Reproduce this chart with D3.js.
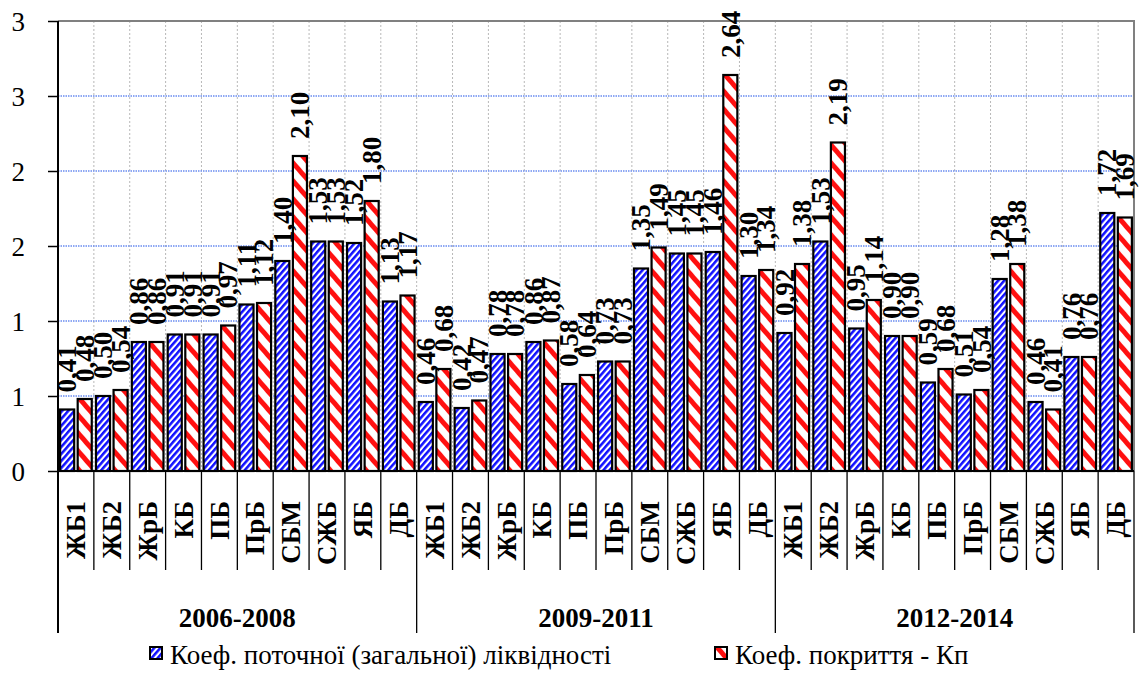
<!DOCTYPE html>
<html>
<head>
<meta charset="utf-8">
<script src="https://cdn.jsdelivr.net/npm/d3@7/dist/d3.min.js"></script>
<style>
  html, body { margin: 0; padding: 0; background: #ffffff; }
  svg { display: block; }
</style>
</head>
<body>
<svg id="chart" width="1148" height="673"></svg>
<script>
// Period groups and banks shown in each group
const groups = ["2006-2008", "2009-2011", "2012-2014"];
const banks = ["ЖБ1", "ЖБ2", "ЖрБ", "КБ", "ПБ", "ПрБ", "СБМ", "СЖБ", "ЯБ", "ДБ"];

// Current (general) liquidity ratio, by group then bank
const currentRatio = [
  0.41, 0.50, 0.86, 0.91, 0.91, 1.11, 1.40, 1.53, 1.52, 1.13,
  0.46, 0.42, 0.78, 0.86, 0.58, 0.73, 1.35, 1.45, 1.46, 1.30,
  0.92, 1.53, 0.95, 0.90, 0.59, 0.51, 1.28, 0.46, 0.76, 1.72
];
// Coverage ratio Kp, by group then bank
const coverageRatio = [
  0.48, 0.54, 0.86, 0.91, 0.97, 1.12, 2.10, 1.53, 1.80, 1.17,
  0.68, 0.47, 0.78, 0.87, 0.64, 0.73, 1.49, 1.45, 2.64, 1.34,
  1.38, 2.19, 1.14, 0.90, 0.68, 0.54, 1.38, 0.41, 0.76, 1.69
];

const seriesNames = ["Коеф. поточної (загальної) ліквідності", "Коеф. покриття - Кп"];
const yTicks = [0, 0.5, 1, 1.5, 2, 2.5, 3];

const FONT = "'Liberation Serif', Tinos, 'Times New Roman', 'DejaVu Serif', serif";

// Flat category list: one entry per (group, bank)
const categories = [];
groups.forEach((g, gi) => banks.forEach((b, bi) => {
  const i = gi * banks.length + bi;
  categories.push({ id: i, group: g, bank: b, values: [currentRatio[i], coverageRatio[i]] });
}));

const svg = d3.select("#chart").attr("font-family", FONT);
const plot = { left: 58, right: 1134, top: 21, bottom: 471 };

const x = d3.scaleBand()
  .domain(categories.map(d => d.id))
  .range([plot.left, plot.right])
  .padding(0);
const xSub = d3.scaleBand()
  .domain([0, 1])
  .range([0, x.bandwidth()])
  .paddingInner(0.2)
  .paddingOuter(0.12);
const y = d3.scaleLinear().domain([0, 3]).range([plot.bottom, plot.top]);

const fmt = v => d3.format(".2f")(v).replace(".", ",");

// Hatch fills: blue rising stripes, red falling stripes
const defs = svg.append("defs");
function stripes(id, color, period, angle, share) {
  const p = defs.append("pattern")
    .attr("id", id)
    .attr("patternUnits", "userSpaceOnUse")
    .attr("width", period)
    .attr("height", period)
    .attr("patternTransform", `rotate(${angle})`);
  p.append("rect").attr("width", period).attr("height", period).attr("fill", "#ffffff");
  p.append("rect").attr("width", period * share).attr("height", period).attr("fill", color);
}
stripes("hatchBlue", "#1010ff", 4.6, 41, 0.55);
stripes("hatchRed", "#ff1010", 11.8, -41, 0.42);
const fills = ["url(#hatchBlue)", "url(#hatchRed)"];

// Vertical gridlines at category boundaries
const bounds = d3.range(categories.length + 1).map(i => plot.left + i * x.step());
svg.append("g").selectAll("line")
  .data(bounds.slice(1, -1))
  .join("line")
  .attr("x1", d => d).attr("x2", d => d)
  .attr("y1", plot.top).attr("y2", plot.bottom)
  .attr("stroke", "#b8b8b8")
  .attr("stroke-width", 1)
  .attr("stroke-dasharray", "2 2");

// Horizontal gridlines
svg.append("g").selectAll("line")
  .data(yTicks.filter(t => t > 0 && t < 3))
  .join("line")
  .attr("x1", plot.left).attr("x2", plot.right)
  .attr("y1", d => y(d)).attr("y2", d => y(d))
  .attr("stroke", "#6a8cf0")
  .attr("stroke-width", 1.3)
  .attr("stroke-dasharray", "1.5 1");

// Plot frame (top and right)
svg.append("path")
  .attr("d", `M${plot.left},${plot.top}H${plot.right}V${plot.bottom}`)
  .attr("fill", "none")
  .attr("stroke", "#808080")
  .attr("stroke-width", 2);

// Bars
const catG = svg.append("g").selectAll("g")
  .data(categories)
  .join("g")
  .attr("transform", d => `translate(${x(d.id)},0)`);

catG.selectAll("rect")
  .data(d => d.values.map((v, s) => ({ v, s })))
  .join("rect")
  .attr("x", d => xSub(d.s))
  .attr("width", xSub.bandwidth())
  .attr("y", d => y(d.v))
  .attr("height", d => y(0) - y(d.v))
  .attr("fill", d => fills[d.s])
  .attr("stroke", "#000")
  .attr("stroke-width", 2.2);

// Value labels (blue series first, red on top)
[0, 1].forEach(s => {
  svg.append("g").selectAll("text")
    .data(categories)
    .join("text")
    .attr("transform", d => `translate(${x(d.id) + xSub(s) + xSub.bandwidth() / 2},${y(d.values[s]) - 17}) rotate(-90)`)
    .attr("dy", "0.34em")
    .attr("text-anchor", "start")
    .attr("font-size", 27)
    .attr("font-weight", "bold")
    .text(d => fmt(d.values[s]));
});

// Y axis
const yAxis = svg.append("g")
  .attr("transform", `translate(${plot.left},0)`)
  .call(d3.axisLeft(y).tickValues(yTicks).tickSize(10).tickSizeOuter(0).tickPadding(0)
    .tickFormat(d => String(Math.round(d))));
yAxis.attr("font-family", FONT).attr("font-size", 27);
yAxis.select(".domain").remove();
yAxis.selectAll(".tick line").attr("stroke", "#000").attr("stroke-width", 1.5);
yAxis.selectAll(".tick text")
  .attr("x", -33)
  .attr("dy", "0.34em")
  .attr("fill", "#000");

// Axis lines
svg.append("line")
  .attr("x1", plot.left).attr("x2", plot.left)
  .attr("y1", plot.top).attr("y2", 633)
  .attr("stroke", "#000").attr("stroke-width", 2);
svg.append("line")
  .attr("x1", plot.left).attr("x2", plot.right)
  .attr("y1", plot.bottom).attr("y2", plot.bottom)
  .attr("stroke", "#000").attr("stroke-width", 2);

// Category separators below the axis
svg.append("g").selectAll("line")
  .data(bounds.slice(1))
  .join("line")
  .attr("x1", d => d).attr("x2", d => d)
  .attr("y1", plot.bottom)
  .attr("y2", (d, i) => ((i + 1) % banks.length === 0 ? 633 : 570))
  .attr("stroke", "#000").attr("stroke-width", 1.3);

// Bank labels
svg.append("g").selectAll("text")
  .data(categories)
  .join("text")
  .attr("transform", d => `translate(${x(d.id) + x.bandwidth() / 2},501) rotate(-90)`)
  .attr("dy", "0.34em")
  .attr("text-anchor", "end")
  .attr("font-size", 27)
  .attr("font-weight", "bold")
  .text(d => d.bank);

// Group labels
svg.append("g").selectAll("text")
  .data(groups)
  .join("text")
  .attr("x", (g, gi) => (bounds[gi * banks.length] + bounds[(gi + 1) * banks.length]) / 2)
  .attr("y", 627)
  .attr("text-anchor", "middle")
  .attr("font-size", 27)
  .attr("font-weight", "bold")
  .text(g => g);

// Legend
const legendItems = [{ x: 149, name: seriesNames[0] }, { x: 714, name: seriesNames[1] }];
const lg = svg.append("g").selectAll("g")
  .data(legendItems)
  .join("g")
  .attr("transform", d => `translate(${d.x},0)`);
lg.append("rect")
  .attr("x", 1).attr("y", 647)
  .attr("width", 12).attr("height", 12)
  .attr("fill", (d, i) => fills[i])
  .attr("stroke", "#000").attr("stroke-width", 2);
lg.append("text")
  .attr("x", 21).attr("y", 664)
  .attr("font-size", 27)
  .text(d => d.name);
</script>
</body>
</html>
